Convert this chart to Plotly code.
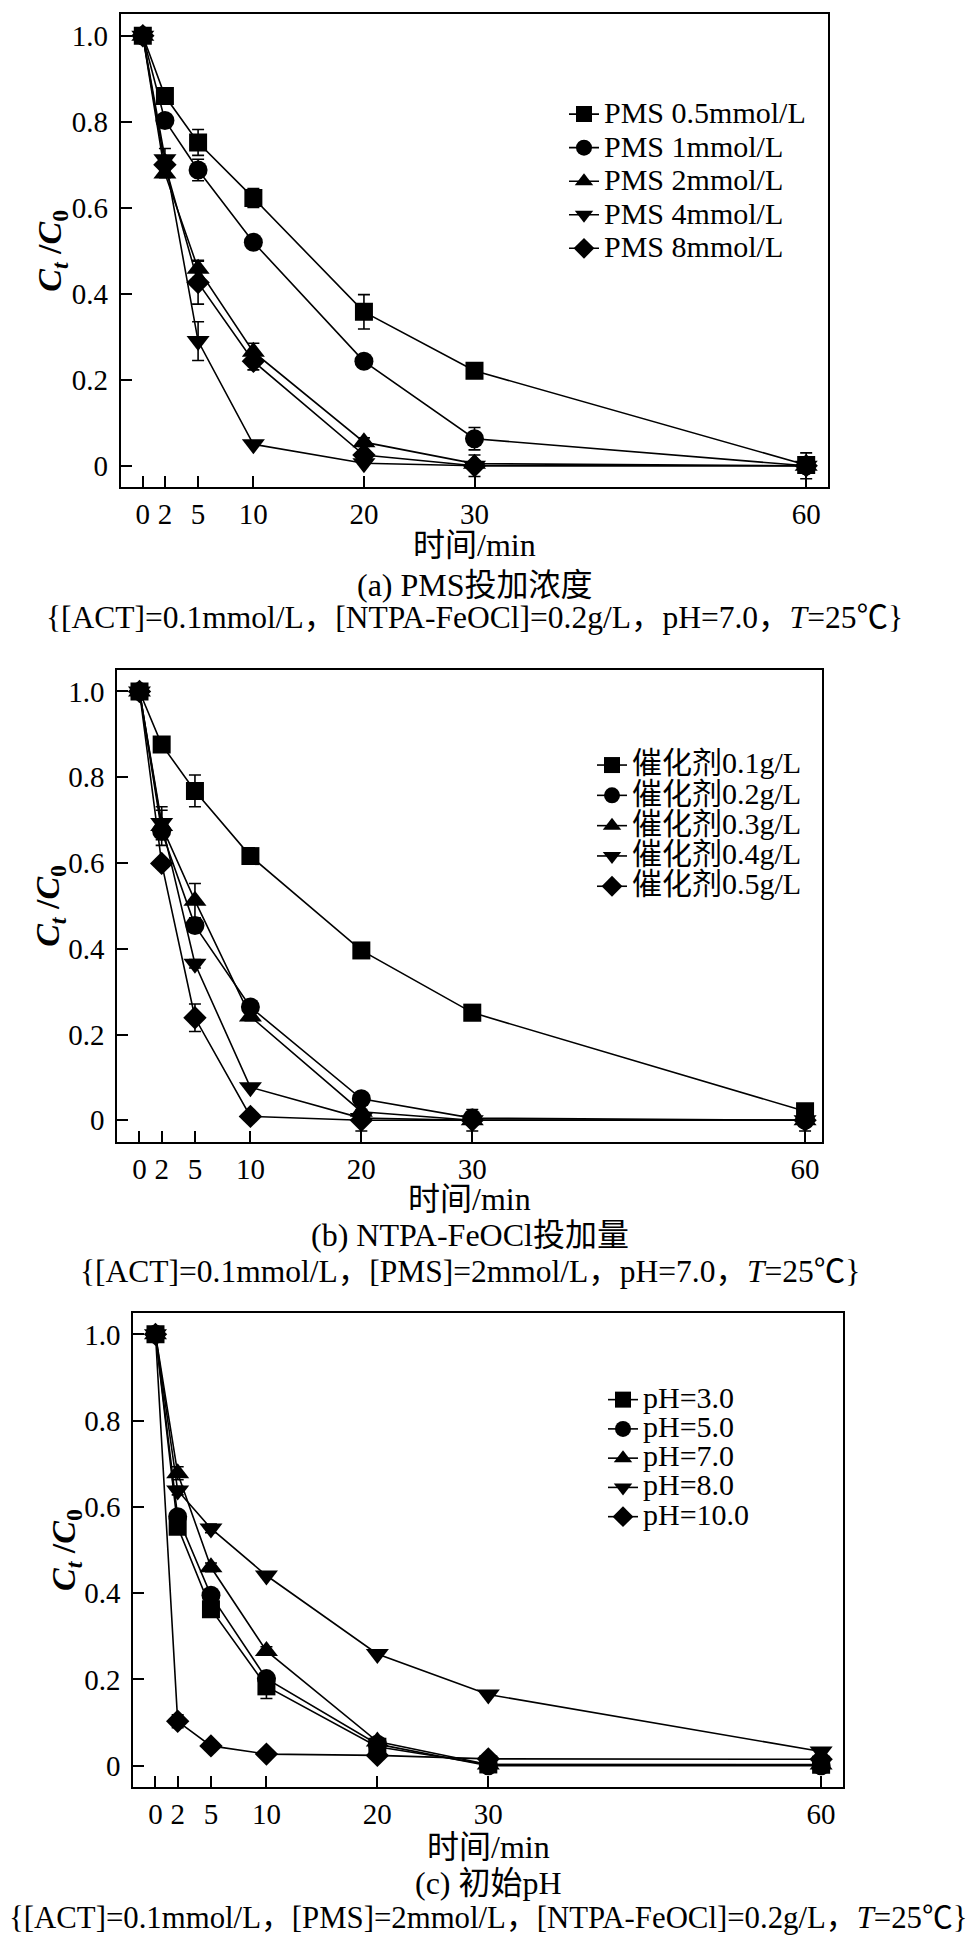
import plotly.graph_objects as go

# ---------------- data ----------------
t = [0, 2, 5, 10, 20, 30, 60]
x_ticks = [0, 2, 5, 10, 20, 30, 60]
y_ticks = [0, 0.2, 0.4, 0.6, 0.8, 1.0]
y_ticktext = ["0", "0.2", "0.4", "0.6", "0.8", "1.0"]

# (a) PMS dosage
a_names = ["PMS 0.5mmol/L", "PMS 1mmol/L", "PMS 2mmol/L", "PMS 4mmol/L", "PMS 8mmol/L"]
a_pms05 = [1.0, 0.86, 0.752, 0.623, 0.358, 0.221, 0.002]
a_pms1 = [1.0, 0.803, 0.688, 0.52, 0.243, 0.063, 0.0]
a_pms2 = [1.0, 0.68, 0.458, 0.265, 0.055, 0.005, 0.0]
a_pms4 = [1.0, 0.713, 0.29, 0.05, 0.006, 0.0, 0.0]
a_pms8 = [1.0, 0.70, 0.426, 0.243, 0.025, 0.0, 0.0]
a_err05 = [0, 0.01, 0.03, 0.022, 0.04, 0.012, 0]
a_err1 = [0, 0.01, 0.025, 0, 0.008, 0.026, 0]
a_err2 = [0, 0.01, 0.02, 0.02, 0.01, 0.005, 0]
a_err4 = [0, 0.025, 0.045, 0, 0, 0, 0]
a_err8 = [0, 0.01, 0.05, 0.02, 0, 0.025, 0.03]

# (b) catalyst dosage
b_names = ["催化剂0.1g/L", "催化剂0.2g/L", "催化剂0.3g/L", "催化剂0.4g/L", "催化剂0.5g/L"]
b_cat01 = [1.0, 0.876, 0.768, 0.616, 0.396, 0.251, 0.021]
b_cat02 = [1.0, 0.674, 0.454, 0.264, 0.05, 0.005, 0.0]
b_cat03 = [1.0, 0.686, 0.512, 0.242, 0.02, 0.0, 0.0]
b_cat04 = [1.0, 0.693, 0.365, 0.077, 0.005, 0.0, 0.0]
b_cat05 = [1.0, 0.599, 0.239, 0.009, 0.0, 0.0, 0.0]
b_err01 = [0, 0.01, 0.037, 0.01, 0.01, 0.01, 0.01]
b_err02 = [0, 0.02, 0.01, 0.01, 0.01, 0.005, 0]
b_err03 = [0, 0.045, 0.04, 0.01, 0, 0, 0]
b_err04 = [0, 0.03, 0.01, 0, 0, 0, 0]
b_err05 = [0, 0.01, 0.032, 0, 0.025, 0.025, 0.025]

# (c) initial pH
c_names = ["pH=3.0", "pH=5.0", "pH=7.0", "pH=8.0", "pH=10.0"]
c_ph3 = [1.0, 0.554, 0.363, 0.184, 0.044, 0.003, 0.002]
c_ph5 = [1.0, 0.577, 0.395, 0.202, 0.05, 0.0, 0.0]
c_ph7 = [1.0, 0.678, 0.46, 0.266, 0.056, 0.003, 0.003]
c_ph8 = [1.0, 0.638, 0.55, 0.441, 0.259, 0.165, 0.033]
c_ph10 = [1.0, 0.103, 0.046, 0.027, 0.024, 0.016, 0.015]
c_err3 = [0, 0.01, 0.01, 0.028, 0, 0, 0]
c_err5 = [0, 0.01, 0.01, 0.01, 0, 0.005, 0]
c_err7 = [0, 0.015, 0.01, 0.01, 0, 0, 0]
c_err8 = [0, 0.01, 0.01, 0, 0, 0, 0.005]
c_err10 = [0, 0.015, 0.01, 0.005, 0.005, 0.005, 0]

x_title = "时间/min"
captions = ["(a) PMS投加浓度", "(b) NTPA-FeOCl投加量", "(c) 初始pH"]
conditions = [
    "{[ACT]=0.1mmol/L，[NTPA-FeOCl]=0.2g/L，pH=7.0，<i>T</i>=25℃}",
    "{[ACT]=0.1mmol/L，[PMS]=2mmol/L，pH=7.0，<i>T</i>=25℃}",
    "{[ACT]=0.1mmol/L，[PMS]=2mmol/L，[NTPA-FeOCl]=0.2g/L，<i>T</i>=25℃}",
]
y_title = "<b><i>C</i><sub><i>t</i></sub> /<i>C</i><sub>0</sub></b>"

# ---------------- styling / layout ----------------
W, H = 974, 1951
FONT = "Liberation Serif, Noto Sans CJK SC, serif"
symbols = ["square", "circle", "triangle-up", "triangle-down", "diamond"]
sizes = [18, 19, 20, 20, 18]

panels = [
    dict(names=a_names, ys=[a_pms05, a_pms1, a_pms2, a_pms4, a_pms8],
         errs=[a_err05, a_err1, a_err2, a_err4, a_err8],
         box=(120.7, 828.3, 14.3, 487.3), xr=[-2, 62],
         ytx=52, xt=545, cap=585, cond=617, cond_fs=31.5,
         leg_x=564, leg_cy=181.3, leg_fs=23.5),
    dict(names=b_names, ys=[b_cat01, b_cat02, b_cat03, b_cat04, b_cat05],
         errs=[b_err01, b_err02, b_err03, b_err04, b_err05],
         box=(117.3, 821.7, 670.0, 1141.7), xr=[-2, 61.5],
         ytx=50, xt=1199, cap=1235, cond=1271.7, cond_fs=31.5,
         leg_x=592, leg_cy=825.9, leg_fs=21),
    dict(names=c_names, ys=[c_ph3, c_ph5, c_ph7, c_ph8, c_ph10],
         errs=[c_err3, c_err5, c_err7, c_err8, c_err10],
         box=(133.3, 843.3, 1312.8, 1787.3), xr=[-2, 62],
         ytx=66, xt=1846.7, cap=1883, cond=1918, cond_fs=30.8,
         leg_x=603, leg_cy=1458.5, leg_fs=20.2),
]

fig = go.Figure()
layout = dict(width=W, height=H, margin=dict(l=0, r=0, t=0, b=0),
              paper_bgcolor="white", plot_bgcolor="white",
              font=dict(family=FONT, size=29, color="black"),
              showlegend=True, annotations=[])

for i, p in enumerate(panels):
    n = "" if i == 0 else str(i + 1)
    xa, ya = "x" + n, "y" + n
    lg = "legend" + n
    for j in range(5):
        fig.add_trace(go.Scatter(
            x=t, y=p["ys"][j], xaxis=xa, yaxis=ya, legend=lg,
            name='<span style="font-size:30px">' + p["names"][j] + "</span>",
            mode="lines+markers",
            line=dict(color="black", width=1.6),
            marker=dict(symbol=symbols[j], size=sizes[j], color="black",
                        line=dict(width=0)),
            error_y=dict(type="data", array=p["errs"][j], visible=True,
                         color="black", thickness=1.6, width=6),
        ))
    x0, x1, y0, y1 = p["box"]
    axis_common = dict(showline=True, linewidth=2, linecolor="black", mirror=True,
                       ticks="inside", ticklen=11, tickwidth=1.6, tickcolor="black",
                       showgrid=False, zeroline=False,
                       tickfont=dict(family=FONT, size=29, color="black"))
    layout["xaxis" + n] = dict(axis_common, domain=[x0 / W, x1 / W], range=p["xr"],
                               tickmode="array", tickvals=x_ticks,
                               ticktext=[str(v) for v in x_ticks],
                               ticklabelstandoff=0, anchor=ya)
    layout["yaxis" + n] = dict(axis_common, domain=[1 - y1 / H, 1 - y0 / H],
                               range=[-0.05, 1.05], tickmode="array",
                               tickvals=y_ticks, ticktext=y_ticktext,
                               ticklabelstandoff=5, anchor=xa)
    layout[lg] = dict(x=p["leg_x"] / W, y=1 - p["leg_cy"] / H, xanchor="left",
                      yanchor="middle", bgcolor="rgba(0,0,0,0)", borderwidth=0,
                      font=dict(family=FONT, size=p["leg_fs"], color="black"),
                      itemsizing="trace")
    cx = (x0 + x1) / 2 / W
    anns = layout["annotations"]
    anns.append(dict(text=y_title, x=p["ytx"] / W, y=1 - (y0 + y1) / 2 / H,
                     xref="paper", yref="paper", showarrow=False, textangle=-90,
                     xanchor="center", yanchor="middle",
                     font=dict(family=FONT, size=34, color="black")))
    anns.append(dict(text=x_title, x=cx, y=1 - p["xt"] / H, xref="paper", yref="paper",
                     showarrow=False, xanchor="center", yanchor="middle",
                     font=dict(family=FONT, size=32, color="black")))
    anns.append(dict(text=captions[i], x=cx, y=1 - p["cap"] / H, xref="paper", yref="paper",
                     showarrow=False, xanchor="center", yanchor="middle",
                     font=dict(family=FONT, size=32, color="black")))
    anns.append(dict(text=conditions[i], x=cx, y=1 - p["cond"] / H, xref="paper",
                     yref="paper", showarrow=False, xanchor="center", yanchor="middle",
                     font=dict(family=FONT, size=p["cond_fs"], color="black")))

fig.update_layout(**layout)
fig.write_html("out.html", config={"displayModeBar": False},
               post_script="document.body.style.margin='0px';document.body.style.overflow='hidden';")
